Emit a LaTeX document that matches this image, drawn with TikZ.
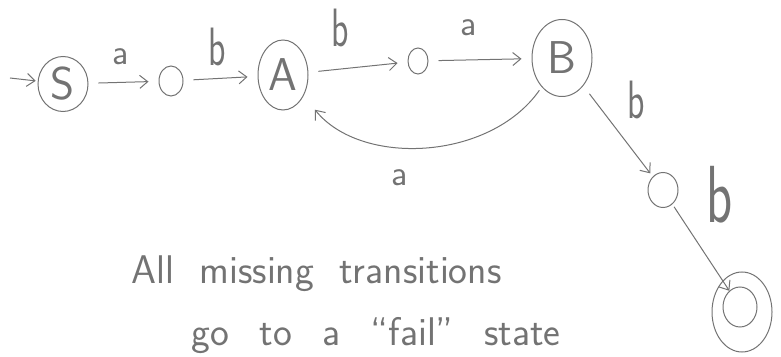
\documentclass[tikz,border=0pt]{standalone}
\usetikzlibrary{arrows.meta,shapes.geometric}
\colorlet{pencil}{black!55}
\tikzset{state/.style={draw=pencil,ellipse,line width=1pt,inner sep=0pt,text=pencil,font=\fontsize{46}{46}\sffamily},
arr/.style={draw=pencil,line width=1pt,-{Straight Barb[length=8pt,width=13pt]},shorten >=10pt,shorten <=10pt},
lbl/.style={text=pencil,font=\fontsize{36}{36}\sffamily}}
\newcommand{\tb}{\scalebox{1}[1.5]{b}}

\begin{document}
\begin{tikzpicture}[x=1pt,y=1pt]
\useasboundingbox (0,0) rectangle (781,356);
% states
\coordinate (in) at (10,278);
\node[state,minimum width=50,minimum height=55] (S) at (63,272){S};
\node[state,minimum width=24,minimum height=30] (q1) at (171,275){};
\node[state,minimum width=50,minimum height=70] (A) at (283,281){A};
\node[state,minimum width=20,minimum height=26] (q2) at (418,295){};
\node[state,minimum width=60,minimum height=77] (B) at (562,298){B};
\node[state,minimum width=30,minimum height=35] (q3) at (663,166){};
\node[state,minimum width=60,minimum height=80] (F) at (742,44){};
\node[state,minimum width=34,minimum height=40] (Fi) at (740,49){};
% transitions
\draw[arr,shorten <=0pt,shorten >=2pt] (in)--(S);
\draw[arr] (S)--(q1);\draw[arr] (q1)--(A);\draw[arr] (A)--(q2);\draw[arr] (q2)--(B);
\draw[arr,shorten >=4pt] (B)--(q3);\draw[arr,shorten <=3pt,shorten >=0pt] (q3)--(Fi);
\draw[arr,shorten <=4pt,shorten >=18pt] (B.235) .. controls +(-52,-74) and +(57,-71) .. (A.-45);
% labels
\foreach \t/\x/\y/\n in {a/121/299/la1,\tb/217/309/lb1,\tb/340/328/lb2,a/469/328/la2,a/400/178/la3,\tb/636/256/lb3}
{\node[lbl] (\n) at (\x,\y){\t};}
\node[lbl,scale=1.5] (lb4) at (720,161){\tb};
\node[lbl,font=\fontsize{40}{40}\sffamily,anchor=base west] (note1) at (128,72){\makebox[370pt][s]{All missing transitions}};
\node[lbl,font=\fontsize{40}{40}\sffamily,anchor=base west] (note2) at (188,11){\makebox[369pt][s]{go to a ``fail'' state}};
\end{tikzpicture}
\end{document}
